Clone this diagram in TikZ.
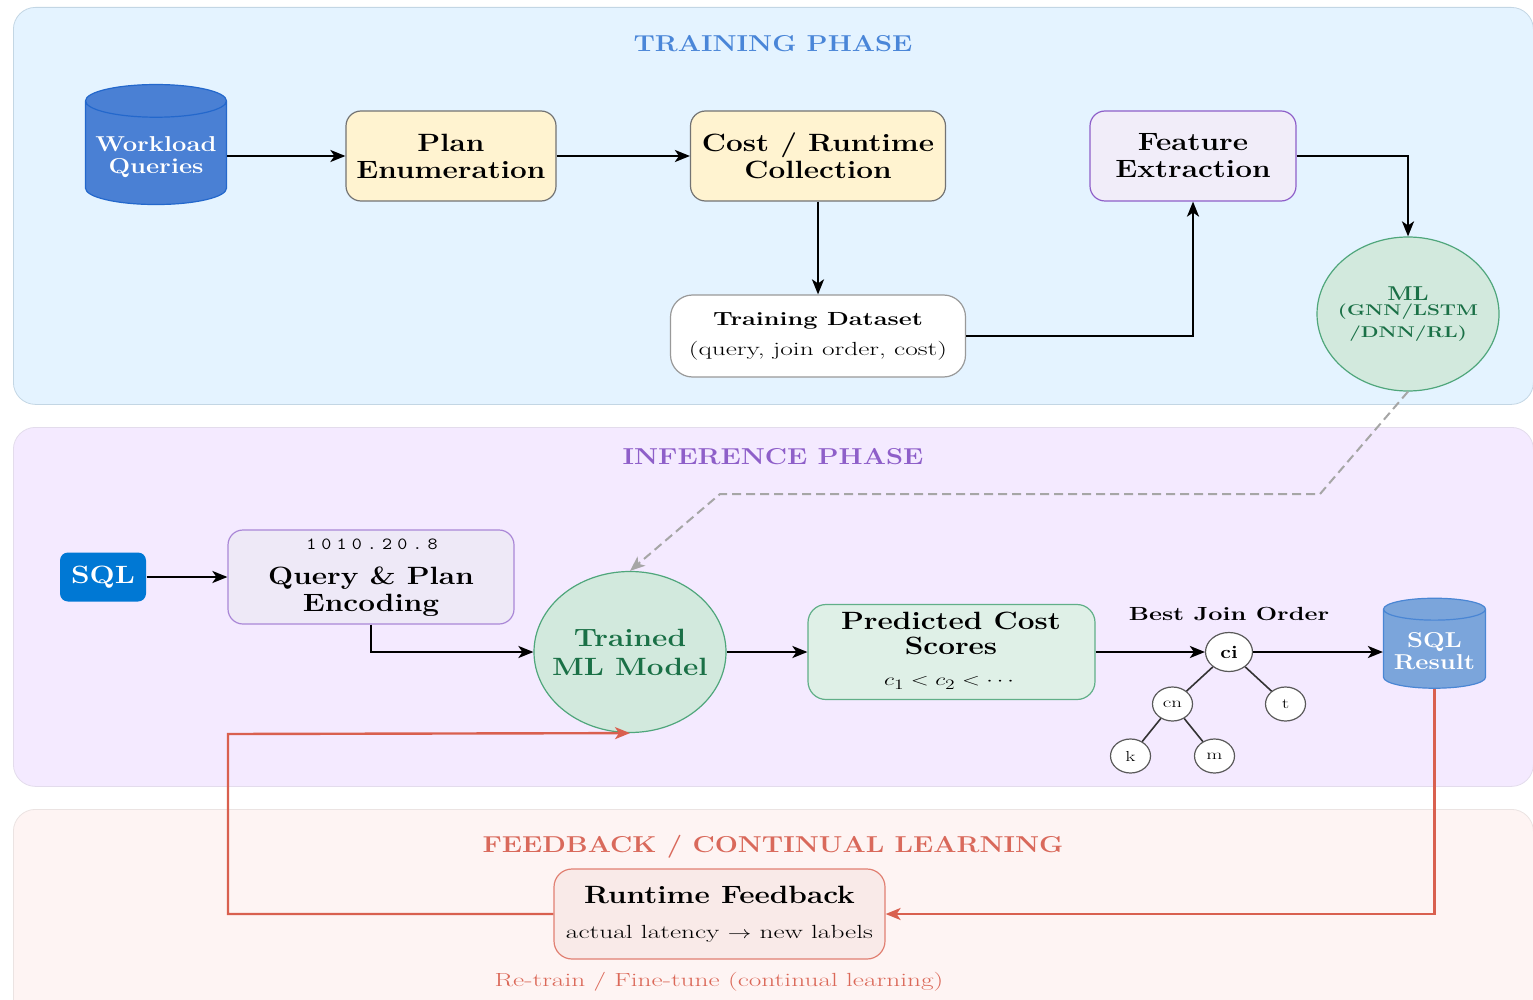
\documentclass[tikz,border=0pt]{standalone}
\usepackage{fontspec}
\setmainfont{Latin Modern Roman}[FakeStretch=1.19]
\newfontfamily\widefont{Latin Modern Roman}[FakeStretch=1.44]
\newfontfamily\widebold{Latin Modern Roman}[FakeStretch=1.33]
\newfontfamily\bitfont{Latin Modern Mono}[FakeStretch=1.15,LetterSpace=30]
\usepackage{tikz}
\usetikzlibrary{positioning,arrows.meta,shapes.geometric,trees}
\definecolor{trainfill}{HTML}{E4F3FF}
\definecolor{trainline}{HTML}{C3D6E4}
\definecolor{trainhead}{HTML}{4A86D8}
\definecolor{inferfill}{HTML}{F4EAFF}
\definecolor{inferline}{HTML}{E3DCEC}
\definecolor{inferhead}{HTML}{8E5FC9}
\definecolor{feedfill}{HTML}{FEF4F3}
\definecolor{feedline}{HTML}{EBE3E2}
\definecolor{feedhead}{HTML}{D9695B}
\definecolor{dbblue}{HTML}{4A80D4}
\definecolor{dbline}{HTML}{2468CC}
\definecolor{dblight}{HTML}{7BA5DB}
\definecolor{dblightline}{HTML}{4A86D4}
\definecolor{sandfill}{HTML}{FFF3D0}
\definecolor{mlfill}{HTML}{D2E9DD}
\definecolor{mlline}{HTML}{4FA67B}
\definecolor{mltext}{HTML}{1A7046}
\definecolor{redline}{HTML}{D9604F}
\definecolor{sqlblue}{HTML}{0078D4}
\definecolor{purplefill}{HTML}{EEE9F7}
\definecolor{rosefill}{HTML}{F9EAE8}
\tikzset{
bandbox/.style = {rectangle, rounded corners=22pt, line width=0.8pt, minimum width=1520pt, anchor=north west},
headtxt/.style = {font=\fontsize{23}{25}\selectfont\bfseries},
stepbox/.style = {rectangle, draw, rounded corners=15pt, line width=1.2pt, align=center, inner sep=0pt, font=\fontsize{25}{27}\selectfont\bfseries},
%cylinders for the two data stores
dbnode/.style = {cylinder, shape border rotate=90, draw, line width=1.2pt, inner sep=0pt, shape aspect=0.27, align=center, font=\fontsize{21.5}{22}\selectfont\bfseries},
dbtxt/.style = {align=center, text=white, font=\fontsize{21.5}{22}\selectfont\bfseries},
mlnode/.style = {ellipse, draw=mlline, fill=mlfill, line width=1.2pt, align=center, inner sep=-14pt, text=mltext},
flow/.style = {-{Stealth[length=15pt,width=12pt,inset=4pt]}, line width=2.4pt, black},
back/.style = {-{Stealth[length=15pt,width=12pt,inset=4pt]}, line width=2.4pt, redline},
treenode/.style = {ellipse, draw=black!65, fill=white, line width=1.2pt, inner sep=0pt, minimum width=40pt, minimum height=34pt, font=\fontsize{14.5}{14}\widefont}
}
\begin{document}
\begin{tikzpicture}[x=1pt,y=-1pt]
    \useasboundingbox (0,0) rectangle (1533,1000);
    % phases
    \node [bandbox, fill=trainfill, draw=trainline, minimum height=397pt] (train) at (13,7) {};
    \node [bandbox, fill=inferfill, draw=inferline, minimum height=359pt] (infer) at (13,427) {};
    \node [bandbox, fill=feedfill, draw=feedline, minimum height=240pt] (feed) at (13,809) {};
    \node [headtxt, text=trainhead] (trainhead) at (773,44) {TRAINING PHASE};
    \node [headtxt, text=inferhead] (inferhead) at (773,457) {INFERENCE PHASE};
    \node [headtxt, text=feedhead] (feedhead) at (773,847) {FEEDBACK / CONTINUAL LEARNING};

    % training row
    \node [dbnode, fill=dbblue, draw=dbline, minimum width=141pt, minimum height=120pt] (wq) at (156,153) {\phantom{Workload}\\\phantom{Queries}};
    \node [dbtxt] (wqtxt) at (156,157) {Workload\\Queries};
    \node [stepbox, fill=sandfill, draw=black!55, minimum width=210pt, minimum height=90pt] (pe) at (451,156) {Plan\\Enumeration};
    \node [stepbox, fill=sandfill, draw=black!55, minimum width=255pt, minimum height=90pt] (cr) at (818,156) {Cost / Runtime\\Collection};
    \node [stepbox, fill=purplefill!80!white, draw=inferhead, minimum width=206pt, minimum height=90pt] (fe) at (1193,156) {Feature\\Extraction};
    \node [stepbox, fill=white, draw=black!40, rounded corners=22pt, minimum width=295pt, minimum height=82pt, font=\fontsize{19}{21}\widefont] (td) at (818,336)
        {{\widebold\bfseries Training Dataset}\\[9pt](query, join order, cost)};
    \node [mlnode, minimum width=182pt, minimum height=154pt] (ml) at (1408,314) {};
    \node [font=\fontsize{20}{20}\selectfont\bfseries, text=mltext] (mltxt) at (1408,294) {ML};
    \node [font=\fontsize{15.5}{22}\widebold\bfseries, text=mltext, align=center] (mlsub) at (1408,323) {(GNN/LSTM\\/DNN/RL)};

    \draw [flow] (wq.east |- pe.west) -- (pe.west);
    \draw [flow] (pe.east) -- (cr.west);
    \draw [flow] (cr.south) -- (td.north);
    \draw [flow] (td.east) -| (fe.south);
    \draw [flow] (fe.east) -| (ml.north);

    % inference row
    \node [stepbox, fill=sqlblue, draw=none, rounded corners=8pt, minimum width=86pt, minimum height=49pt, text=white] (sql) at (103,577) {SQL};
    \node [stepbox, fill=purplefill, draw=inferhead!75, minimum width=286pt, minimum height=94pt] (qe) at (371,577) {};
    \node [font=\fontsize{17}{18}\bitfont] (bits) at (372,544) {1010.20.8};
    \node [font=\fontsize{25}{27}\selectfont\bfseries, align=center] (qetxt) at (371,592) {Query \& Plan\\Encoding};
    \node [mlnode, minimum width=192pt, minimum height=161pt, font=\fontsize{25}{29}\selectfont\bfseries] (tm) at (630,652) {Trained\\ML Model};
    \node [stepbox, fill=mlfill!70, draw=mlline!90, rounded corners=18pt, minimum width=287pt, minimum height=95pt] (pc) at (951.5,652) {};
    \node [font=\fontsize{25}{25}\selectfont\bfseries, align=center] (pctxt) at (951,633) {Predicted Cost\\Scores};
    \node [font=\fontsize{19}{19}\selectfont] (pcord) at (949,683) {\scalebox{1.36}[1]{$c_1<c_2<\cdots$}};
    \node [font=\fontsize{19}{21}\widebold\bfseries] (best) at (1229,614) {Best Join Order};
    \node [dbnode, fill=dblight, draw=dblightline, minimum width=102pt, minimum height=90pt] (sr) at (1434.5,649) {\phantom{SQL}\\\phantom{Result}};
    \node [dbtxt] (srtxt) at (1434.5,651) {SQL\\Result};

    % join tree
    \node [treenode, minimum width=47pt, minimum height=39pt, font=\fontsize{18}{18}\selectfont\bfseries] (ci) at (1229,652) {ci}
        [grow=down, level distance=52pt,
         level 1/.style={sibling distance=113pt},
         level 2/.style={sibling distance=84pt},
         edge from parent/.style={draw, line width=1.6pt, black!80}]
        child
        {
            node [treenode] (cn) {cn}
            child
            {
                node [treenode] (k) {k}
            }
            child
            {
                node [treenode] (m) {m}
            }
        }
        child
        {
            node [treenode] (t) {t}
        };

    \draw [flow] (sql.east) -- (qe.west);
    \draw [flow] (qe.south) |- (tm.west);
    \draw [flow] (tm.east) -- (pc.west);
    \draw [flow] (pc.east) -- (ci.west);
    \draw [flow] (ci.east) -- (ci.east -| sr.west);

    % trained model handed over
    \coordinate (handA) at (1320,494);
    \coordinate (handB) at (720,494);
    \draw [-{Stealth[length=15pt,width=12pt,inset=4pt]}, line width=2pt, black!35, dash pattern=on 9pt off 5pt] (ml.south) -- (handA) -- (handB) -- (tm.north);

    % feedback row
    \node [stepbox, fill=rosefill, draw=redline!80, rounded corners=18pt, minimum width=331pt, minimum height=90pt] (rf) at (719.5,914) {};
    \node [font=\fontsize{25}{27}\selectfont\bfseries] (rftxt) at (719.5,895) {Runtime Feedback};
    \node [font=\fontsize{19}{21}\widefont] (rfsub) at (719.5,934) {actual latency \scalebox{1.36}[1]{$\rightarrow$} new labels};
    \node [font=\fontsize{19}{21}\widefont, text=redline!95] (retrain) at (719,982) {Re-train / Fine-tune (continual learning)};

    \coordinate (backA) at (228,914);
    \coordinate (backB) at (228,734);
    \draw [back] (sr.south) |- (rf.east);
    \draw [back] (rf.west) -- (backA) -- (backB) -- (tm.south);
\end{tikzpicture}
\end{document}
